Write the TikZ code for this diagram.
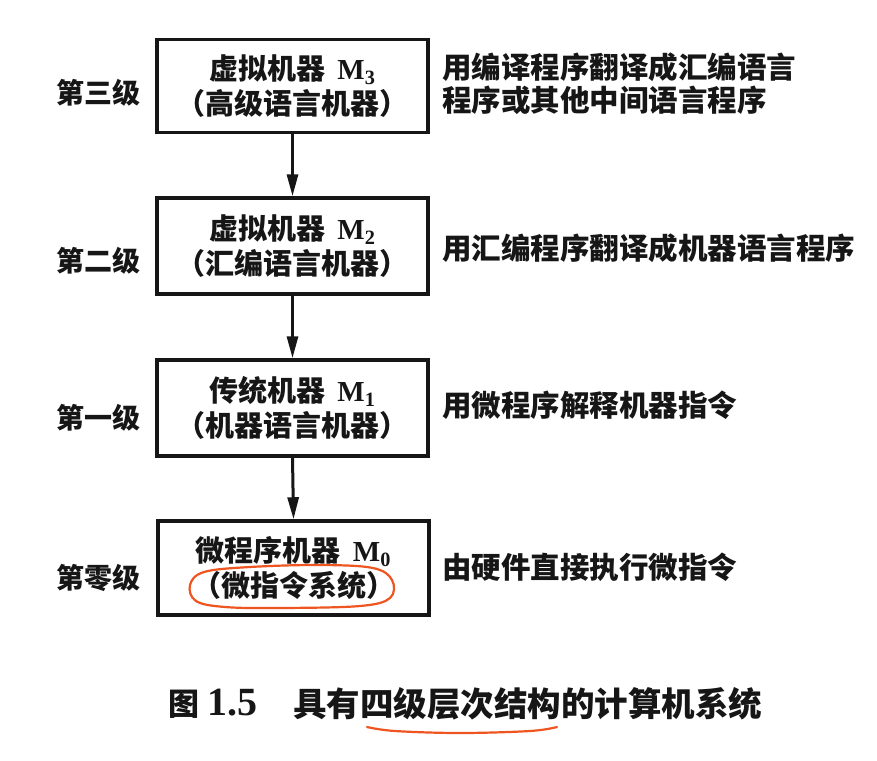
\documentclass[tikz,border=0pt]{standalone}
\usepackage{fontspec}
\setmainfont{Liberation Serif}
\newfontfamily\cjk{Noto Sans CJK SC}
\usetikzlibrary{arrows.meta}
\definecolor{ink}{HTML}{161616}
\definecolor{marker}{HTML}{EE5520}
% machine name with subscripted level number
\newcommand\mname[1]{\hspace{12pt}{\rmfamily\bfseries M\textsubscript{#1}}}
\tikzset{
  levelbox/.style={draw=ink, line width=3.5pt, minimum width=271pt,
    align=center, text=ink, inner sep=0pt,
    font=\cjk\bfseries\fontsize{29}{35}\selectfont},
  levelname/.style={text=ink, inner sep=0pt,
    font=\cjk\bfseries\fontsize{28}{30}\selectfont},
  note/.style={text=ink, anchor=west, align=left, inner sep=0pt,
    font=\cjk\bfseries\fontsize{29.5}{33}\selectfont},
  flow/.style={draw=ink, line width=3pt, -{Triangle[length=22pt,width=11pt]}},
  pen/.style={draw=marker, line width=2.2pt, line cap=round, line join=round},
}
\begin{document}
\begin{tikzpicture}[x=1pt,y=-1pt]
  \useasboundingbox[fill=white] (0,0) rectangle (877,760);

  % the four machine levels
  \node[levelbox, minimum height=93pt] (m3) at (292.5,86)
    {虚拟机器\mname{3}\\（高级语言机器）};
  \node[levelbox, minimum height=96pt] (m2) at (292.5,246)
    {虚拟机器\mname{2}\\（汇编语言机器）};
  \node[levelbox, minimum height=96pt] (m1) at (292.5,408)
    {传统机器\mname{1}\\（机器语言机器）};
  \node[levelbox, minimum height=94pt] (m0) at (293.5,568)
    {微程序机器\mname{0}\\（微指令系统）};

  % level labels
  \node[levelname] (l3) at (98,93)  {第三级};
  \node[levelname] (l2) at (98,261) {第二级};
  \node[levelname] (l1) at (98,418) {第一级};
  \node[levelname] (l0) at (98,578) {第零级};

  % how each level is realised
  \node[note] (n3) at (442,84)  {用编译程序翻译成汇编语言\\程序或其他中间语言程序};
  \node[note] (n2) at (442,248) {用汇编程序翻译成机器语言程序};
  \node[note] (n1) at (442,405) {用微程序解释机器指令};
  \node[note] (n0) at (442,567) {由硬件直接执行微指令};

  % downward translation
  \draw[flow] (m3.south) -- (m2.north);
  \draw[flow] (m2.south) -- (m1.north);
  \draw[flow] (m1.south) -- (m0.north);

  % caption
  \node[text=ink, anchor=west, inner sep=0pt] (capno) at (168,704)
    {{\cjk\bfseries\fontsize{31}{33}\selectfont 图}\hspace{8pt}{\bfseries\fontsize{40}{42}\selectfont 1.5}};
  \node[text=ink, anchor=west, inner sep=0pt,
    font=\cjk\bfseries\fontsize{33.5}{36}\selectfont] (cap) at (293,704)
    {具有四级层次结构的计算机系统};

  % hand-drawn highlights
  \draw[pen] plot[smooth cycle, tension=0.6] coordinates
    {(190,585) (204,572) (250,567) (320,565) (373,568) (392,580)
     (390,598) (360,606) (280,608) (225,607) (196,601)};
  \draw[pen] plot[smooth, tension=0.6] coordinates
    {(367,727) (395,731) (460,733) (530,731) (557,727)};
\end{tikzpicture}
\end{document}
